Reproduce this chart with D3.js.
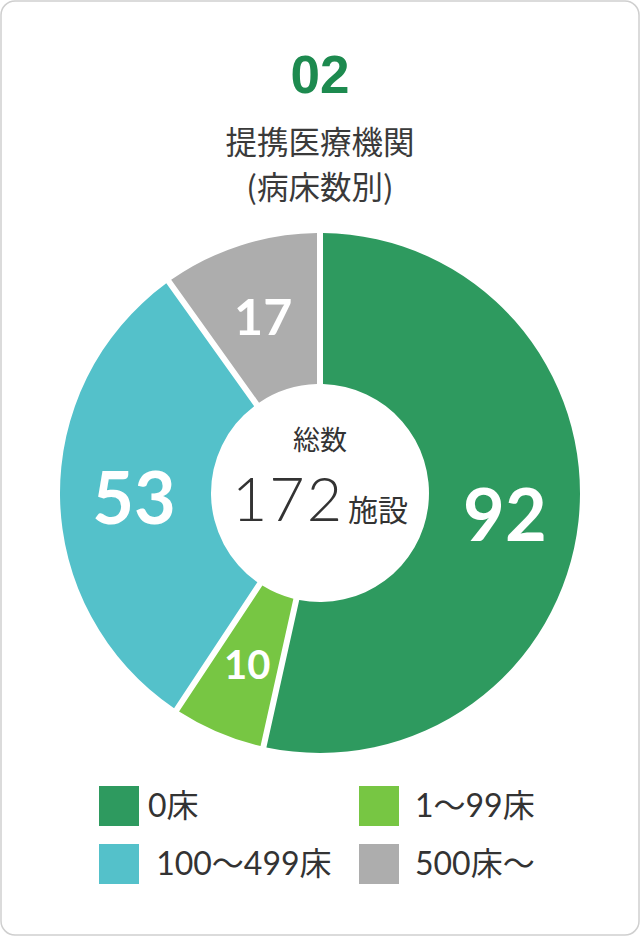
<!DOCTYPE html>
<html>
<head>
<meta charset="utf-8">
<script src="https://cdn.jsdelivr.net/npm/d3@7"></script>
<style>
  html, body { margin: 0; padding: 0; background: #fff; }
  svg { display: block; }
</style>
</head>
<body>
<div id="chart"></div>
<script>
// ---- data ----
const categories = ["0床", "1～99床", "100～499床", "500床～"];
const values = [92, 10, 53, 17];
const legendLabels = ["0床", "1～99床", " 100～499床", "500床～"];
const colors = ["#2e9a5f", "#77c643", "#54c1ca", "#adadad"];
const titleNumber = "02";
const titleLines = ["提携医療機関", "(病床数別)"];
const centerLabel = "総数";
const centerUnit = "施設";

// ---- layout ----
const W = 640, H = 936;
const cx = 320, cy = 493, outerR = 260, innerR = 109, labelR = 186;
const gap = 6;
const fontLatin = "Lato, 'Noto Sans CJK JP', sans-serif";
const fontCJK = "'Noto Sans CJK JP', 'Noto Sans', sans-serif";

const svg = d3.select("#chart").append("svg")
  .attr("width", W).attr("height", H);

svg.append("rect")
  .attr("x", 1).attr("y", 1).attr("width", W - 2).attr("height", H - 2)
  .attr("rx", 14).attr("fill", "#fff")
  .attr("stroke", "#cfcfcf").attr("stroke-width", 1.5);

// title
svg.append("text")
  .attr("x", 320).attr("y", 93)
  .attr("text-anchor", "middle")
  .attr("font-family", "'Liberation Sans', Arial, sans-serif")
  .attr("font-weight", 700).attr("font-size", 53)
  .attr("fill", "#1d8a4f")
  .text(titleNumber);

svg.selectAll("text.title").data(titleLines).enter().append("text")
  .attr("class", "title")
  .attr("x", 320).attr("y", (d, i) => 154 + i * 45)
  .attr("text-anchor", "middle")
  .attr("font-family", fontCJK)
  .attr("font-size", 31.5)
  .attr("fill", "#3a3a3a")
  .text(d => d);

// donut
const total = d3.sum(values);
const pie = d3.pie().sort(null).value(d => d);
const arcs = pie(values);
const arc = d3.arc()
  .innerRadius(innerR).outerRadius(outerR)
  .padAngle(gap / outerR).padRadius(outerR);
const labelArc = d3.arc().innerRadius(labelR).outerRadius(labelR);
const sizeScale = d3.scaleLog().domain([10, 53]).range([40, 72]).clamp(true);

const g = svg.append("g").attr("transform", `translate(${cx},${cy})`);
g.selectAll("path").data(arcs).enter().append("path")
  .attr("d", arc)
  .attr("fill", (d, i) => colors[i]);

g.selectAll("text.val").data(arcs).enter().append("text")
  .attr("class", "val")
  .attr("transform", d => `translate(${labelArc.centroid(d)})`)
  .attr("text-anchor", "middle")
  .attr("dominant-baseline", "central")
  .attr("font-family", fontLatin)
  .attr("font-weight", 700)
  .attr("font-size", d => sizeScale(d.data))
  .attr("fill", "#fff")
  .text(d => d.data);

// center
g.append("text")
  .attr("x", 0).attr("y", -43)
  .attr("text-anchor", "middle")
  .attr("font-family", fontCJK)
  .attr("font-size", 27)
  .attr("fill", "#333")
  .text(centerLabel);

const ct = g.append("text")
  .attr("x", 0).attr("y", 28)
  .attr("text-anchor", "middle")
  .attr("fill", "#333");
ct.append("tspan")
  .attr("font-family", fontLatin)
  .attr("font-weight", 300)
  .attr("font-size", 61)
  .attr("letter-spacing", 2)
  .text(total);
ct.append("tspan")
  .attr("font-family", fontCJK)
  .attr("font-size", 30)
  .attr("dx", 4)
  .text(centerUnit);

// legend
const legend = svg.append("g");
const lg = legend.selectAll("g").data(categories).enter().append("g")
  .attr("transform", (d, i) => `translate(${99 + (i % 2) * 260},${786 + Math.floor(i / 2) * 58})`);
lg.append("rect")
  .attr("width", 40).attr("height", 40)
  .attr("fill", (d, i) => colors[i]);
lg.append("text")
  .attr("x", (d, i) => i % 2 ? 56 : 49)
  .attr("y", 31)
  .attr("font-family", fontLatin)
  .attr("font-size", 32)
  .attr("fill", "#333")
  .attr("xml:space", "preserve")
  .style("white-space", "pre")
  .text((d, i) => legendLabels[i]);
</script>
</body>
</html>
